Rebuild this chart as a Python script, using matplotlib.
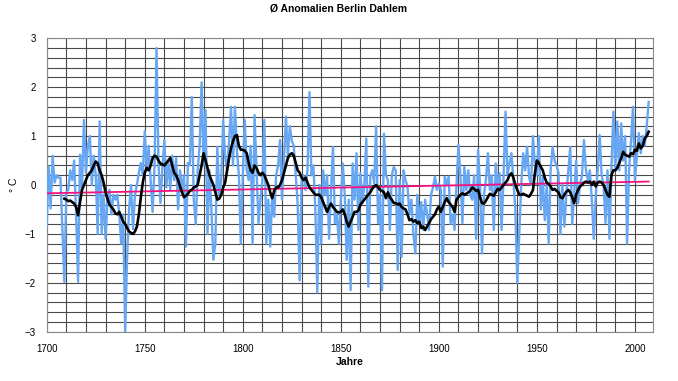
import numpy as np
import matplotlib
matplotlib.use("Agg")
import matplotlib.pyplot as plt

plt.rcParams["font.family"] = ["Liberation Sans", "DejaVu Sans"]

# annual anomalies (°C), one value per year starting 1700
first_year = 1700
anomaly = [
    -0.85, 0.38, -0.48, 0.6, 0.05, 0.2, 0.15, 0.15, -0.9, -1.98,      # 1700
    -0.15, -0.1, 0.3, 0.1, 0.5, -0.6, -1.98, 0.62, -0.05, 1.33,       # 1710
    0.25, 0.8, 1.0, 0.0, 0.6, 0.2, -1.0, 1.3, -1.0, -0.2,             # 1720
    -1.1, -0.3, -0.1, -0.6, -0.2, -0.3, -0.2, -0.6, -1.2, -0.6,       # 1730
    -3.0, -1.5, -0.5, 0.0, -0.9, -0.2, 0.0, 0.25, 0.45, 0.2,          # 1740
    1.1, 0.3, 0.8, 0.1, -0.55, 0.4, 2.8, 0.45, -0.37, 0.35,           # 1750
    0.92, -0.05, 0.5, -0.1, 0.6, 0.1, 0.55, -0.5, 0.3, -0.1,          # 1760
    0.2, -1.26, 0.45, 0.4, 1.8, -0.3, -0.8, 0.3, 0.8, 2.1,            # 1770
    0.4, 1.53, -1.0, 0.3, -0.5, -1.53, -1.2, 0.78, -0.2, 0.1,         # 1780
    1.33, 0.58, 0.3, 0.9, 1.6, 0.4, 1.6, 0.7, 0.2, -1.2,              # 1790
    0.2, 1.33, 0.3, 0.1, 0.8, -1.2, 1.43, 0.3, -0.78, -0.3,           # 1800
    0.1, 1.33, -1.2, -0.3, -1.26, -0.2, -0.65, 0.2, 0.4, 0.92,        # 1810
    -0.3, 0.5, 1.4, 0.6, 1.2, 0.9, 0.8, 0.2, -0.4, -1.95,             # 1820
    0.1, 0.2, -0.1, 0.3, 1.9, 0.2, 0.4, -0.5, -2.2, 0.0,              # 1830
    -1.2, 0.3, -0.2, 0.2, -1.1, -0.1, 0.78, -0.78, -0.6, -1.2,        # 1840
    -0.3, 0.44, -0.2, -1.53, -0.3, -2.15, 0.44, -0.3, 0.65, -0.92,    # 1850
    0.24, -0.37, 0.03, 0.95, -2.08, 0.17, 0.3, 0.03, 1.2, -0.78,      # 1860
    -0.2, -2.15, 1.05, 0.2, 0.1, -0.92, 0.2, 0.37, 0.3, -1.74,        # 1870
    0.1, -1.47, 0.3, 0.1, -0.03, -0.6, -0.3, -1.0, -1.4, -0.2,        # 1880
    -0.78, -0.35, -0.92, -0.3, -0.6, -0.92, -0.2, -0.05, 0.17, -0.1,  # 1890
    0.03, -0.1, -1.67, 0.17, 0.0, 0.17, -0.8, -0.6, -0.92, 0.0,       # 1900
    0.82, 0.2, -0.78, 0.37, -0.1, 0.3, -0.2, -0.3, 0.2, -1.1,         # 1910
    0.72, 0.0, -1.4, -0.2, 0.1, 0.65, -0.1, 0.2, -0.92, 0.44,         # 1920
    -0.1, 0.24, -0.92, 0.2, 1.5, 0.2, 0.44, 0.65, 0.1, -0.5,          # 1930
    -2.0, -1.0, 0.0, 0.65, 0.3, 0.78, 0.17, 0.0, 1.0, 0.4,            # 1940
    0.2, 1.0, -0.5, 0.17, -0.72, 0.0, -1.2, 0.3, 0.78, 0.5,           # 1950
    0.4, 0.25, -1.0, 0.0, -0.85, -0.2, 0.3, 0.78, -0.8, -0.2,         # 1960
    0.5, -0.37, 0.0, 0.2, 0.92, 0.3, 0.1, 0.3, -0.3, -1.1,            # 1970
    -0.2, 0.3, 1.02, 0.2, 0.0, -0.78, 0.3, -1.1, 0.3, 1.5,            # 1980
    0.3, 1.3, 0.3, 1.26, 0.5, 1.0, -1.2, 0.3, 0.9, 1.6,               # 1990
    0.1, 0.6, 1.06, 0.65, 1.0, 0.8, 1.2, 1.7,                         # 2000
]

# running mean as drawn in the chart, starting 1709
mean_first_year = 1709
running_mean = [
    -0.28,                                                               # 1709
    -0.3, -0.33, -0.32, -0.35, -0.38, -0.45, -0.62, -0.35, -0.1, 0.0,   # 1710
    0.1, 0.2, 0.25, 0.3, 0.4, 0.48, 0.44, 0.3, 0.2, 0.05,               # 1720
    -0.15, -0.28, -0.4, -0.45, -0.5, -0.58, -0.6, -0.55, -0.65, -0.75,  # 1730
    -0.8, -0.88, -0.95, -0.98, -1.0, -0.95, -0.85, -0.6, -0.25, 0.05,   # 1740
    0.25, 0.35, 0.3, 0.4, 0.55, 0.6, 0.58, 0.5, 0.44, 0.42,             # 1750
    0.4, 0.45, 0.5, 0.55, 0.4, 0.25, 0.2, 0.1, -0.03, -0.15,            # 1760
    -0.25, -0.22, -0.18, -0.12, -0.1, -0.05, -0.03, 0.0, 0.2, 0.4,      # 1770
    0.65, 0.5, 0.35, 0.2, 0.1, 0.0, -0.15, -0.3, -0.28, -0.2,           # 1780
    -0.05, 0.05, 0.3, 0.55, 0.75, 0.9, 1.0, 1.02, 0.8, 0.72,            # 1790
    0.72, 0.7, 0.65, 0.45, 0.3, 0.25, 0.4, 0.35, 0.25, 0.2,             # 1800
    0.25, 0.2, 0.1, 0.0, -0.15, -0.27, -0.12, -0.05, -0.05, 0.0,        # 1810
    0.1, 0.25, 0.4, 0.55, 0.62, 0.65, 0.6, 0.45, 0.3, 0.25,             # 1820
    0.15, 0.1, 0.15, 0.05, -0.05, -0.1, -0.15, -0.2, -0.2, -0.2,        # 1830
    -0.25, -0.35, -0.45, -0.55, -0.45, -0.38, -0.45, -0.5, -0.55, -0.56,  # 1840
    -0.55, -0.5, -0.6, -0.75, -0.85, -0.75, -0.65, -0.55, -0.55, -0.52,   # 1850
    -0.4, -0.35, -0.3, -0.25, -0.2, -0.15, -0.08, -0.03, 0.0, -0.05,      # 1860
    -0.1, -0.12, -0.15, -0.27, -0.15, -0.25, -0.3, -0.37, -0.37, -0.4,    # 1870
    -0.38, -0.45, -0.48, -0.5, -0.6, -0.72, -0.7, -0.75, -0.72, -0.78,    # 1880
    -0.75, -0.88, -0.85, -0.92, -0.85, -0.78, -0.7, -0.65, -0.6, -0.5,    # 1890
    -0.44, -0.55, -0.45, -0.35, -0.27, -0.35, -0.4, -0.45, -0.55, -0.3,   # 1900
    -0.25, -0.2, -0.17, -0.2, -0.18, -0.15, -0.12, -0.05, -0.08, -0.12,   # 1910
    -0.1, -0.25, -0.37, -0.38, -0.32, -0.25, -0.18, -0.2, -0.22, -0.15,   # 1920
    -0.08, -0.1, -0.05, 0.0, 0.05, 0.1, 0.2, 0.24, 0.15, 0.0,             # 1930
    -0.1, -0.2, -0.2, -0.18, -0.2, -0.22, -0.24, -0.18, -0.1, 0.25,       # 1940
    0.5, 0.45, 0.37, 0.3, 0.15, 0.05, 0.02, -0.03, -0.1, -0.08,           # 1950
    -0.12, -0.15, -0.25, -0.27, -0.2, -0.14, -0.1, -0.15, -0.25, -0.37,   # 1960
    -0.2, -0.1, -0.03, 0.0, 0.05, 0.07, 0.05, 0.07, 0.0, 0.07,            # 1970
    -0.03, 0.05, 0.07, 0.05, 0.0, -0.1, -0.2, -0.24, 0.2, 0.3,            # 1980
    0.3, 0.35, 0.45, 0.55, 0.68, 0.62, 0.6, 0.58, 0.65, 0.63,             # 1990
    0.72, 0.7, 0.85, 0.75, 0.8, 0.95, 1.0, 1.09,                          # 2000
]

# linear trend, end points
trend_years = [1700, 2007]
trend_values = [-0.17, 0.07]

years = np.arange(first_year, first_year + len(anomaly))
mean_years = np.arange(mean_first_year, mean_first_year + len(running_mean))

fig = plt.figure(figsize=(6.78, 3.81), dpi=100)
ax = fig.add_axes([0.0689, 0.1294, 0.8942, 0.7701])

ax.plot(years, anomaly, color="#66a6f2", lw=1.7, zorder=3)
ax.plot(trend_years, trend_values, color="#f2147f", lw=1.3, zorder=4)
ax.plot(mean_years, running_mean, color="black", lw=1.9, zorder=5)

ax.set_xlim(1700, 2009.2)
ax.set_ylim(-3, 3)
ax.set_xticks(range(1700, 2001, 50))
ax.set_xticks(range(1700, 2010, 10), minor=True)
ax.set_yticks(range(-3, 4))
ax.set_yticks(np.arange(-3, 3.01, 0.2), minor=True)
ax.grid(which="both", color="#4a4a4a", lw=0.8, zorder=1)
ax.tick_params(which="both", length=0, labelsize=7, colors="black")
ax.tick_params(axis="x", pad=9)
ax.tick_params(axis="y", pad=8)
for s in ax.spines.values():
    s.set_color("#888888")
    s.set_linewidth(0.8)

fig.text(0.5, 0.978, "Ø Anomalien Berlin Dahlem", ha="center", va="center",
         fontsize=7.5, fontweight="bold")
fig.text(0.516, 0.05, "Jahre", ha="center", va="center", fontsize=7.5, fontweight="bold")
fig.text(0.02, 0.514, "° C", ha="center", va="center", rotation=90, fontsize=7.5)

fig.savefig("out.png", dpi=100)
